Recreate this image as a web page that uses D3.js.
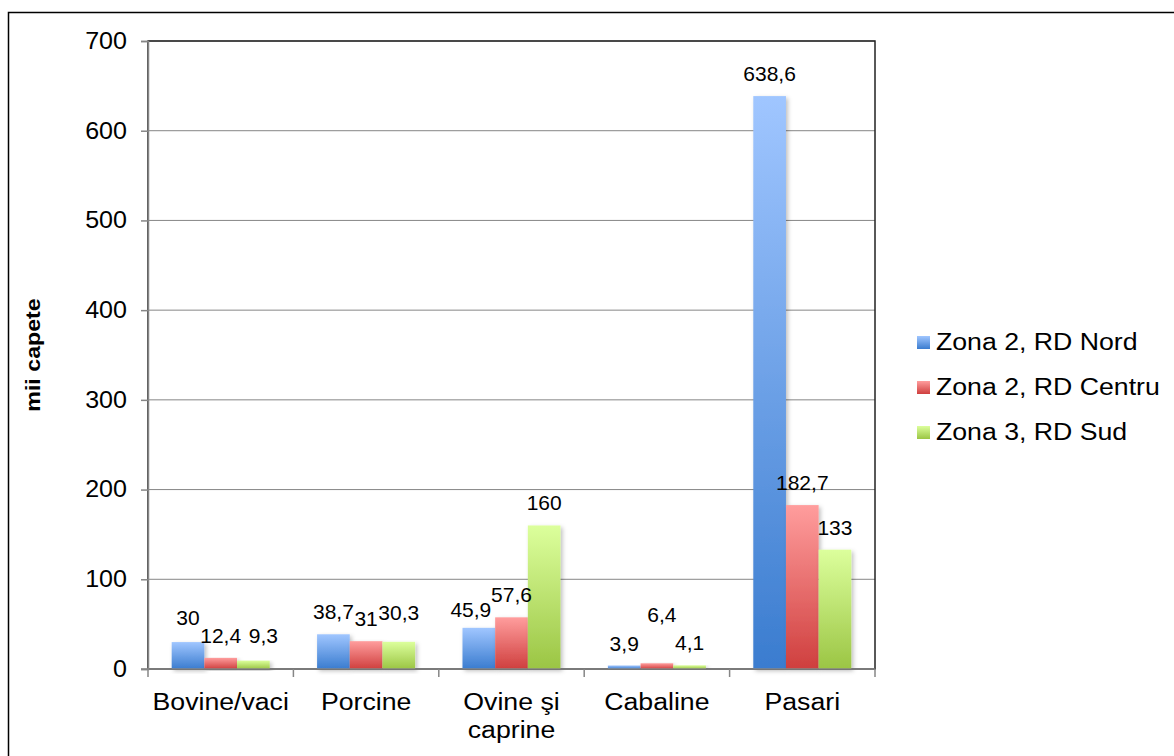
<!DOCTYPE html>
<html>
<head>
<meta charset="utf-8">
<script src="https://cdn.jsdelivr.net/npm/d3@7/dist/d3.min.js"></script>
<style>
  html, body { margin: 0; padding: 0; background: #fff; }
  svg { display: block; font-family: Arial, "Liberation Sans", sans-serif; }
</style>
</head>
<body>
<svg id="chart" width="1174" height="756"></svg>
<script>
// Livestock numbers (thousand head) by category and zone
const categories = ["Bovine/vaci", "Porcine", "Ovine şi caprine", "Cabaline", "Pasari"];
const categoryLines = [["Bovine/vaci"], ["Porcine"], ["Ovine şi", "caprine"], ["Cabaline"], ["Pasari"]];
const seriesNames = ["Zona 2, RD Nord", "Zona 2, RD Centru", "Zona 3, RD Sud"];
const nordValues   = [30, 38.7, 45.9, 3.9, 638.6];
const centruValues = [12.4, 31, 57.6, 6.4, 182.7];
const sudValues    = [9.3, 30.3, 160, 4.1, 133];
const yTicks = [0, 100, 200, 300, 400, 500, 600, 700];
const yTitle = "mii capete";

// Small label nudges (px) where labels would otherwise collide: [series][category]
const labelDx = [[0, 0, -8, 0, 0], [0, 0, 0, 5, 0], [10, 0, 0, 0, 0]];
const labelDy = [[-2, 0, 4, 0, 0], [0, 0, 0, -26, 0], [-3, -7, 0, 0, 0]];

const seriesValues = [nordValues, centruValues, sudValues];
const gradients = [
  ["#a0c6ff", "#3a7ccf"],
  ["#ff9d9d", "#cf3f3e"],
  ["#dcff9c", "#9bc544"]
];

// Text in this chart uses a slightly wide setting of the sans face
const WIDE = 1.16;

const svg = d3.select("#chart");
const plot = { left: 148, top: 41, right: 875, bottom: 669 };

// Outer frame
svg.append("rect")
  .attr("x", 8.5).attr("y", 12.5)
  .attr("width", 1174).attr("height", 760)
  .attr("fill", "none").attr("stroke", "#000").attr("stroke-width", 1.5);

const defs = svg.append("defs");
gradients.forEach((g, i) => {
  const lg = defs.append("linearGradient")
    .attr("id", "grad" + i)
    .attr("x1", 0).attr("y1", 0).attr("x2", 0).attr("y2", 1);
  lg.append("stop").attr("offset", "0%").attr("stop-color", g[0]);
  lg.append("stop").attr("offset", "100%").attr("stop-color", g[1]);
});
const shadow = defs.append("filter").attr("id", "shadow")
  .attr("x", "-20%").attr("y", "-5%").attr("width", "160%").attr("height", "120%");
shadow.append("feDropShadow")
  .attr("dx", 2).attr("dy", 2).attr("stdDeviation", 2)
  .attr("flood-color", "#000").attr("flood-opacity", 0.25);

const x0 = d3.scaleBand()
  .domain(categories)
  .range([plot.left, plot.right])
  .paddingInner(0).paddingOuter(0);

const x1 = d3.scaleBand()
  .domain(d3.range(seriesNames.length))
  .range([0, x0.bandwidth()])
  .paddingOuter(0.725).paddingInner(0);

const y = d3.scaleLinear()
  .domain([0, 700])
  .range([plot.bottom, plot.top]);

// Gridlines
svg.append("g")
  .selectAll("line")
  .data(yTicks.filter(t => t > 0))
  .join("line")
  .attr("x1", plot.left).attr("x2", plot.right)
  .attr("y1", d => y(d)).attr("y2", d => y(d))
  .attr("stroke", "#868686").attr("stroke-width", 1);

// Plot area border
svg.append("rect")
  .attr("x", plot.left).attr("y", plot.top)
  .attr("width", plot.right - plot.left).attr("height", plot.bottom - plot.top)
  .attr("fill", "none").attr("stroke", "#222").attr("stroke-width", 1.5);

// Bars
const groups = svg.append("g")
  .selectAll("g")
  .data(categories)
  .join("g")
  .attr("transform", d => `translate(${x0(d)},0)`);

groups.selectAll("rect")
  .data((c, ci) => seriesValues.map((vals, si) => ({ si, ci, v: vals[ci] })))
  .join("rect")
  .attr("x", d => x1(d.si))
  .attr("width", x1.bandwidth())
  .attr("y", d => y(d.v))
  .attr("height", d => y(0) - y(d.v))
  .attr("fill", d => `url(#grad${d.si})`)
  .attr("filter", "url(#shadow)");

// Data labels
groups.selectAll("text.val")
  .data((c, ci) => seriesValues.map((vals, si) => ({ si, ci, v: vals[ci] })))
  .join("text")
  .attr("class", "val")
  .attr("x", d => x1(d.si) + x1.bandwidth() / 2 + labelDx[d.si][d.ci])
  .attr("y", d => y(d.v) - 15 + labelDy[d.si][d.ci])
  .attr("text-anchor", "middle")
  .attr("font-size", 21)
  .attr("fill", "#000")
  .text(d => String(d.v).replace(".", ","));

// Y axis
const yAxis = d3.axisLeft(y).tickValues(yTicks).tickSize(7).tickPadding(14).tickFormat(d3.format("d"));
const yG = svg.append("g")
  .attr("transform", `translate(${plot.left},0)`)
  .call(yAxis);
yG.select(".domain").attr("stroke", "#868686").attr("stroke-width", 1.5);
yG.selectAll(".tick line").attr("stroke", "#868686").attr("stroke-width", 1.5);
yG.selectAll(".tick text")
  .attr("font-size", 23).attr("fill", "#000")
  .attr("font-family", "Arial, 'Liberation Sans', sans-serif")
  .attr("transform", "translate(-21,0) scale(1.09,1)")
  .attr("x", 0);

// X axis: ticks at category boundaries
const xG = svg.append("g");
xG.append("line")
  .attr("x1", plot.left - 7).attr("x2", plot.right)
  .attr("y1", y(0)).attr("y2", y(0))
  .attr("stroke", "#868686").attr("stroke-width", 1.5);
xG.selectAll("line.tk")
  .data(categories.map(c => x0(c)).concat([x0.range()[1]]))
  .join("line")
  .attr("class", "tk")
  .attr("x1", d => d).attr("x2", d => d)
  .attr("y1", y(0)).attr("y2", y(0) + 8)
  .attr("stroke", "#868686").attr("stroke-width", 1.5);

const catText = xG.selectAll("text.cat")
  .data(categories)
  .join("text")
  .attr("class", "cat")
  .attr("transform", d => `translate(${x0(d) + x0.bandwidth() / 2},710) scale(${WIDE},1)`)
  .attr("text-anchor", "middle")
  .attr("font-size", 23)
  .attr("fill", "#000");
catText.selectAll("tspan")
  .data((d, i) => categoryLines[i])
  .join("tspan")
  .attr("x", 0)
  .attr("dy", (d, i) => i === 0 ? 0 : 28)
  .text(d => d);

// Y axis title
svg.append("text")
  .attr("transform", `translate(40,${(plot.top + plot.bottom) / 2}) rotate(-90) scale(${WIDE},1)`)
  .attr("text-anchor", "middle")
  .attr("font-size", 20)
  .attr("font-weight", "bold")
  .attr("fill", "#000")
  .text(yTitle);

// Legend
const legend = svg.append("g").attr("transform", "translate(917,342)");
const items = legend.selectAll("g")
  .data(seriesNames)
  .join("g")
  .attr("transform", (d, i) => `translate(0,${i * 45})`);
items.append("rect")
  .attr("x", 0).attr("y", -6)
  .attr("width", 13).attr("height", 13)
  .attr("fill", (d, i) => `url(#grad${i})`);
items.append("text")
  .attr("transform", `translate(19,0) scale(${WIDE},1)`)
  .attr("dy", "0.36em")
  .attr("font-size", 23)
  .attr("fill", "#000")
  .text(d => d);
</script>
</body>
</html>
